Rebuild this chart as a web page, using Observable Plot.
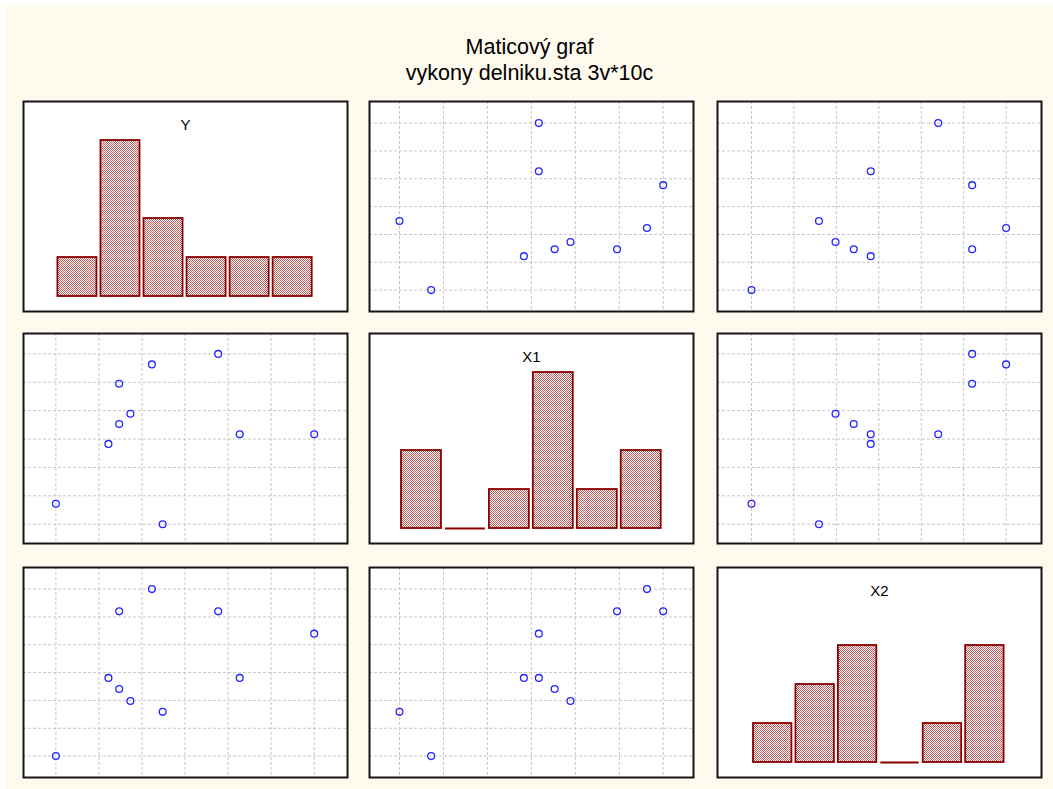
<!DOCTYPE html>
<html><head><meta charset="utf-8">
<script src="https://cdn.jsdelivr.net/npm/d3@7"></script>
<script src="https://cdn.jsdelivr.net/npm/@observablehq/plot@0.6"></script>
<style>
body{margin:0;background:#fff;width:1053px;height:789px;overflow:hidden;position:relative;font-family:"Liberation Sans",Arial,sans-serif}
#bg{position:absolute;left:6px;top:5px;width:1047px;height:784px;background:#fefaee}
#title{position:absolute;left:6px;width:1047px;top:34px;text-align:center;font-size:21.5px;line-height:26px;color:#000}
.panel{position:absolute}
.panel svg{display:block}
</style></head><body>
<div id="bg"></div>
<div id="title"><div>Maticový graf</div><div>vykony delniku.sta 3v*10c</div></div>
<svg width="0" height="0" style="position:absolute">
  <defs>
    <pattern id="dither" width="2" height="2" patternUnits="userSpaceOnUse">
      <rect width="2" height="2" fill="#ffffff"/>
      <rect x="0" y="0" width="1" height="1" fill="#c25a5a"/>
      <rect x="1" y="1" width="1" height="1" fill="#c25a5a"/>
    </pattern>
  </defs>
</svg>
<div id="panels"></div>
<script>
// ---- data (in grid units) ----
const variables = ["Y", "X1", "X2"];
const Y  = [2.48, 0.00, 1.22, 6.00, 4.27, 1.47, 1.73, 1.47, 2.23, 3.77];
const X1 = [0.00, 0.72, 2.83, 3.17, 3.17, 3.53, 3.89, 4.95, 5.63, 6.00];
const X2 = [1.59, 0.00, 2.81, 4.40, 2.81, 2.41, 1.98, 5.20, 6.00, 5.20];
const gridTicks = [0, 1, 2, 3, 4, 5, 6];
const binEdges = [1, 2, 3, 4, 5];

const series = {Y, X1, X2};

// ---- layout ----
const frameW = 324, frameH = 210;
const colLeft = [22.3, 368.3, 715.7];
const rowTop = [99.7, 332.3, 565.7];
const colInset = [[32.4, 33.3], [30, 30.3], [34, 35.4]];
const rowInset = [[21.6, 21.4], [20.4, 19.3], [21.6, 21.4]];
const font = "Liberation Sans, Arial, sans-serif";

const container = document.getElementById("panels");

for (let i = 0; i < 3; i++) {
  for (let j = 0; j < 3; j++) {
    const xv = series[variables[j]];
    const yv = series[variables[i]];
    let marks;
    let yScale;
    if (i === j) {
      const bins = d3.bin().domain([0, 6]).thresholds(binEdges)(xv);
      yScale = {domain: [0, 5], insetTop: 0, insetBottom: 15, axis: null};
      marks = [
        Plot.rect(bins.filter(b => b.length > 0), {
          x1: b => b.x0, x2: b => b.x1, y1: 0, y2: b => b.length,
          insetLeft: 2, insetRight: 2,
          fill: "url(#dither)", stroke: "#8b0000", strokeWidth: 1.8
        }),
        Plot.ruleY(bins.filter(b => b.length === 0), {
          y: 0, x1: b => b.x0, x2: b => b.x1,
          insetLeft: 2, insetRight: 2,
          stroke: "#8b0000", strokeWidth: 1.8
        }),
        Plot.text([variables[i]], {
          frameAnchor: "top", lineAnchor: "middle", dy: 24, text: d => d,
          fontSize: 15, fill: "#000", fontFamily: font
        }),
        Plot.frame({stroke: "#151515", strokeWidth: 2})
      ];
    } else {
      const pts = xv.map((v, k) => ({x: v, y: yv[k]}));
      yScale = {domain: [0, 6], insetTop: rowInset[i][0], insetBottom: rowInset[i][1], axis: null};
      marks = [
        Plot.gridX(gridTicks, {stroke: "#c6c6c6", strokeOpacity: 1, strokeDasharray: "3,2", strokeWidth: 1}),
        Plot.gridY(gridTicks, {stroke: "#c6c6c6", strokeOpacity: 1, strokeDasharray: "3,2", strokeWidth: 1}),
        Plot.dot(pts, {x: "x", y: "y", r: 3.4, stroke: "#2525ff", strokeWidth: 1.3, fill: "none"}),
        Plot.frame({stroke: "#151515", strokeWidth: 2})
      ];
    }
    const chart = Plot.plot({
      width: frameW + 2,
      height: frameH + 2,
      margin: 1,
      x: {domain: [0, 6], insetLeft: colInset[j][0], insetRight: colInset[j][1], axis: null},
      y: yScale,
      style: {background: "#ffffff", overflow: "visible", fontFamily: font},
      marks
    });
    const wrap = document.createElement("div");
    wrap.className = "panel";
    wrap.style.left = colLeft[j] + "px";
    wrap.style.top = rowTop[i] + "px";
    wrap.appendChild(chart);
    container.appendChild(wrap);
  }
}
</script>
</body></html>
